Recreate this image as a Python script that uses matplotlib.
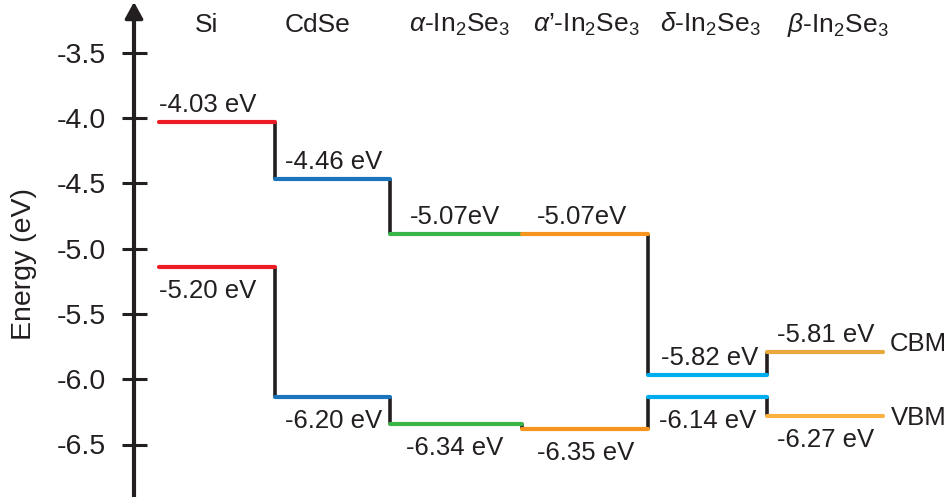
import matplotlib
matplotlib.use("Agg")
import matplotlib.pyplot as plt

# ---------------- data ----------------
materials = ["Si", "CdSe", r"$\alpha$-In$_2$Se$_3$", r"$\alpha$’-In$_2$Se$_3$",
             r"$\delta$-In$_2$Se$_3$", r"$\beta$-In$_2$Se$_3$"]
# level positions as drawn (eV)
cbm_levels = [-4.03, -4.47, -4.89, -4.89, -5.97, -5.79]
vbm_levels = [-5.14, -6.14, -6.34, -6.38, -6.14, -6.28]
# printed labels
cbm_labels = ["-4.03 eV", "-4.46 eV", "-5.07eV", "-5.07eV", "-5.82 eV", "-5.81 eV"]
vbm_labels = ["-5.20 eV", "-6.20 eV", "-6.34 eV", "-6.35 eV", "-6.14 eV", "-6.27 eV"]
cbm_colors = ["#ED1C24", "#1C75BC", "#39B54A", "#F7941D", "#00AEEF", "#E9A93A"]
vbm_colors = ["#ED1C24", "#1C75BC", "#39B54A", "#F7941D", "#00AEEF", "#FBB040"]
yticks = [-3.5, -4.0, -4.5, -5.0, -5.5, -6.0, -6.5]
ytick_labels = ["-3.5", "-4.0", "-4.5", "-5.0", "-5.5", "-6.0", "-6.5"]

# ---------------- layout ----------------
W, H = 952, 497
PX_PER_EV = 130.6
Y_REF_PX, Y_REF_E = 118.0, -4.0
def e_of(py):
    return Y_REF_E - (py - Y_REF_PX) / PX_PER_EV
dy = 1.0 / PX_PER_EV  # eV per pixel

col_edges = [159, 275, 390, 522, 648, 767, 883]
header_x = [207, 318, 460, 586, 710, 838]
cbm_lbl_dx = [0, 10, 20, 15, 13, 10]
vbm_lbl_dx = [0, 10, 16, 15, 11, 10]
axis_x = 134
ink = "#231F20"

plt.rcParams["font.family"] = ["Liberation Sans", "DejaVu Sans"]
plt.rcParams["mathtext.fontset"] = "custom"
plt.rcParams["mathtext.rm"] = "Liberation Sans"
plt.rcParams["mathtext.it"] = "Liberation Sans:italic"
plt.rcParams["mathtext.bf"] = "Liberation Sans:bold"

fig = plt.figure(figsize=(W / 100, H / 100), dpi=100)
ax = fig.add_axes([0, 0, 1, 1])
ax.set_xlim(0, W)
ax.set_ylim(e_of(H), e_of(0))
ax.patch.set_alpha(0)

for s in ["top", "right", "bottom"]:
    ax.spines[s].set_visible(False)
ax.spines["left"].set_position(("data", axis_x))
ax.spines["left"].set_bounds(e_of(495), e_of(12))
ax.spines["left"].set_linewidth(3.0)
ax.spines["left"].set_color(ink)
ax.set_xticks([])
ax.set_yticks(yticks)
ax.set_yticklabels(ytick_labels)
ax.tick_params(axis="y", direction="inout", length=18, width=2.2, color=ink,
               labelsize=20.5, labelcolor=ink, pad=11.5)

# arrow head
ax.annotate("", xy=(axis_x, e_of(2)), xytext=(axis_x, e_of(20)),
            arrowprops=dict(arrowstyle="-|>,head_length=1.0,head_width=0.55",
                            color=ink, lw=2.5, shrinkA=0, shrinkB=0))

# y label
ax.text(24, e_of(264), "Energy (eV)", rotation=90, ha="center", va="center",
        fontsize=20.5, color=ink)

n = len(materials)
# connectors
for i in range(n - 1):
    xe = col_edges[i + 1]
    for lv in (cbm_levels, vbm_levels):
        if lv[i] != lv[i + 1]:
            ax.plot([xe, xe], [lv[i], lv[i + 1]], color=ink, lw=2.6,
                    solid_capstyle="butt", zorder=2)

# levels
for i in range(n):
    x0, x1 = col_edges[i], col_edges[i + 1]
    ax.plot([x0, x1], [cbm_levels[i], cbm_levels[i]], color=cbm_colors[i], lw=3.0,
            solid_capstyle="round", zorder=3)
    ax.plot([x0, x1], [vbm_levels[i], vbm_levels[i]], color=vbm_colors[i], lw=3.0,
            solid_capstyle="round", zorder=3)
    ax.text(x0 + cbm_lbl_dx[i], cbm_levels[i] + 10 * dy, cbm_labels[i],
            ha="left", va="baseline", fontsize=18.5, color=ink)
    ax.text(x0 + vbm_lbl_dx[i], vbm_levels[i] - 31 * dy, vbm_labels[i],
            ha="left", va="baseline", fontsize=18.5, color=ink)
    ax.text(header_x[i], e_of(32), materials[i], ha="center", va="baseline",
            fontsize=19, color=ink)

# CBM / VBM tags
ax.text(890, cbm_levels[-1] + 8 * dy, "CBM", ha="left", va="center",
        fontsize=18.5, color=ink)
ax.text(891, vbm_levels[-1] - 2 * dy, "VBM", ha="left", va="center",
        fontsize=18.5, color=ink)

fig.savefig("out.png", dpi=100)
